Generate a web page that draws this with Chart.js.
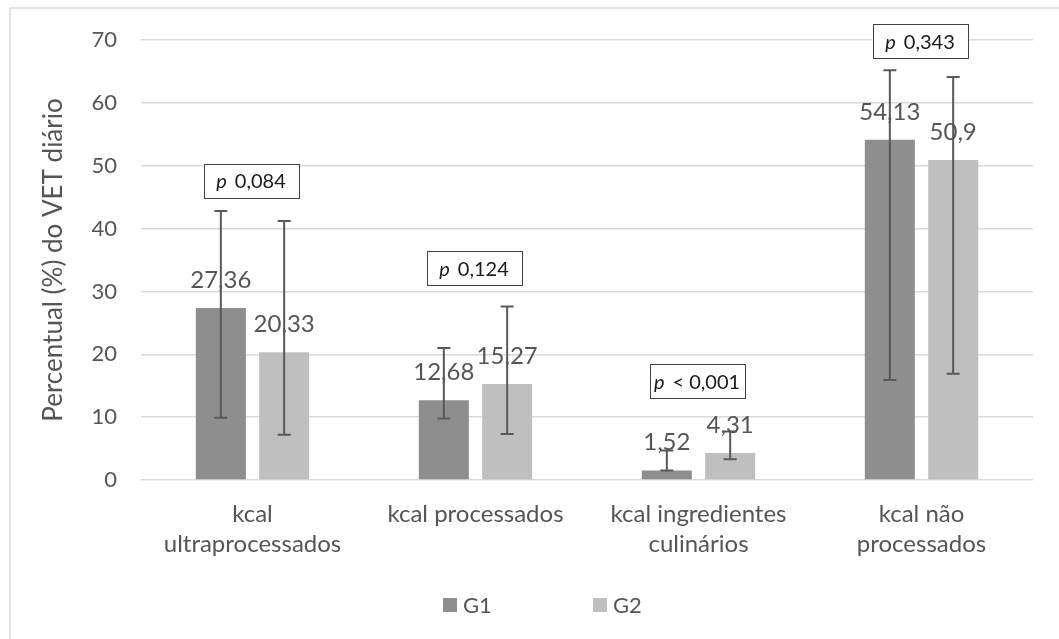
<!DOCTYPE html>
<html>
<head>
<meta charset="utf-8">
<script src="https://cdn.jsdelivr.net/npm/chart.js@4.4.1/dist/chart.umd.min.js"></script>
<style>
  html, body { margin: 0; padding: 0; background: #ffffff; }
  #wrap { width: 1059px; height: 639px; position: relative; }
</style>
</head>
<body>
<div id="wrap"><canvas id="chart" width="1059" height="639"></canvas></div>
<script>
// Category labels (multi-line where the label wraps)
const categories = [
  ['kcal', 'ultraprocessados'],
  'kcal processados',
  ['kcal ingredientes', 'culinários'],
  ['kcal não', 'processados']
];
const seriesNames = ['G1', 'G2'];

// Mean share of daily energy intake (%)
const g1Values = [27.36, 12.68, 1.52, 54.13];
const g2Values = [20.33, 15.27, 4.31, 50.9];

// Error bar limits (%)
const g1Low  = [9.9, 9.8, 1.5, 15.9];
const g1High = [42.8, 21.0, 4.7, 65.2];
const g2Low  = [7.2, 7.3, 3.3, 16.9];
const g2High = [41.2, 27.6, 7.7, 64.1];

// p-values between groups and the value level where each note sits
const pValues = ['0,084', '0,124', '< 0,001', '0,343'];
const pLevels = [47.6, 33.7, 15.7, 69.8];

// Value axis ticks
const yTicks = [0, 10, 20, 30, 40, 50, 60, 70];

const TEXT = '#555555';
const FONT = 'Lato';
const barColors = ['#8e8e8e', '#bfbfbf'];
const lows = [g1Low, g2Low];
const highs = [g1High, g2High];

const fmt = v => String(v).replace('.', ',');

// Light frame on the left and top edges
const framePlugin = {
  id: 'frame',
  beforeDraw(chart) {
    const ctx = chart.ctx;
    ctx.save();
    ctx.strokeStyle = '#d9d9d9';
    ctx.lineWidth = 1.5;
    ctx.beginPath();
    ctx.moveTo(10, chart.height);
    ctx.lineTo(10, 8);
    ctx.lineTo(chart.width, 8);
    ctx.stroke();
    ctx.restore();
  }
};

// Error bars and value labels for each bar
const barExtrasPlugin = {
  id: 'barExtras',
  afterDatasetsDraw(chart) {
    const ctx = chart.ctx;
    const y = chart.scales.y;
    ctx.save();
    chart.data.datasets.forEach((ds, di) => {
      const meta = chart.getDatasetMeta(di);
      meta.data.forEach((el, i) => {
        const yHi = y.getPixelForValue(highs[di][i]);
        const yLo = y.getPixelForValue(lows[di][i]);
        ctx.strokeStyle = '#595959';
        ctx.lineWidth = 2;
        ctx.beginPath();
        ctx.moveTo(el.x, yHi); ctx.lineTo(el.x, yLo);
        ctx.moveTo(el.x - 6.5, yHi); ctx.lineTo(el.x + 6.5, yHi);
        ctx.moveTo(el.x - 6.5, yLo); ctx.lineTo(el.x + 6.5, yLo);
        ctx.stroke();
      });
    });
    ctx.fillStyle = TEXT;
    ctx.font = `24px ${FONT}`;
    ctx.textAlign = 'center';
    ctx.textBaseline = 'alphabetic';
    chart.data.datasets.forEach((ds, di) => {
      const meta = chart.getDatasetMeta(di);
      meta.data.forEach((el, i) => {
        ctx.fillText(fmt(ds.data[i]), el.x, el.y - 20);
      });
    });
    ctx.restore();
  }
};

// Boxed p-value notes above each category, plus the legend row
const notesPlugin = {
  id: 'notes',
  afterDraw(chart) {
    const ctx = chart.ctx;
    const xs = chart.scales.x, ys = chart.scales.y;
    ctx.save();
    pValues.forEach((pv, i) => {
      const cx = xs.getPixelForValue(i) - 1.5;
      const cy = ys.getPixelForValue(pLevels[i]);
      const w = 95, h = 34;
      ctx.fillStyle = '#ffffff';
      ctx.fillRect(cx - w / 2, cy - h / 2, w, h);
      ctx.strokeStyle = '#404040';
      ctx.lineWidth = 1;
      ctx.strokeRect(Math.round(cx - w / 2) + 0.5, Math.round(cy - h / 2) + 0.5, w, h);
      const gap = 8;
      ctx.font = `italic 20px ${FONT}`;
      const pw = ctx.measureText('p').width;
      ctx.font = `20px ${FONT}`;
      const rw = ctx.measureText(pv).width;
      const x0 = cx - (pw + gap + rw) / 2;
      ctx.fillStyle = '#1a1a1a';
      ctx.textBaseline = 'middle';
      ctx.textAlign = 'left';
      ctx.font = `italic 20px ${FONT}`;
      ctx.fillText('p', x0, cy + 1);
      ctx.font = `20px ${FONT}`;
      ctx.fillText(pv, x0 + pw + gap, cy + 1);
    });

    // legend
    const items = [{ x: 443 }, { x: 593 }];
    ctx.font = `22px ${FONT}`;
    ctx.textBaseline = 'middle';
    ctx.textAlign = 'left';
    chart.data.datasets.forEach((ds, di) => {
      const it = items[di];
      ctx.fillStyle = ds.backgroundColor;
      ctx.fillRect(it.x, 598, 14, 14);
      ctx.fillStyle = TEXT;
      ctx.fillText(ds.label, it.x + 20, 606);
    });
    ctx.restore();
  }
};

new Chart(document.getElementById('chart'), {
  type: 'bar',
  data: {
    labels: categories,
    datasets: [
      { label: seriesNames[0], data: g1Values, backgroundColor: barColors[0] },
      { label: seriesNames[1], data: g2Values, backgroundColor: barColors[1] }
    ]
  },
  options: {
    responsive: false,
    animation: false,
    devicePixelRatio: 1,
    layout: { padding: { left: 10, right: 26, top: 40, bottom: 0 } },
    datasets: { bar: { categoryPercentage: 0.568, barPercentage: 0.79 } },
    plugins: {
      legend: { display: false },
      tooltip: { enabled: false }
    },
    scales: {
      x: {
        grid: { display: false, drawTicks: false },
        border: { display: false },
        ticks: {
          color: TEXT,
          font: { family: FONT, size: 24, lineHeight: 1.25 },
          padding: 19,
          maxRotation: 0,
          autoSkip: false
        },
        afterFit(scale) { scale.height = 159; }
      },
      y: {
        min: 0,
        max: 70,
        afterBuildTicks(scale) { scale.ticks = yTicks.map(v => ({ value: v })); },
        grid: { color: '#d9d9d9', lineWidth: 1.5, drawTicks: false },
        border: { display: false },
        ticks: {
          color: TEXT,
          font: { family: FONT, size: 22 },
          padding: 24
        },
        title: {
          display: true,
          text: 'Percentual (%) do VET diário',
          color: TEXT,
          font: { family: FONT, size: 26 },
          padding: { top: 28, bottom: 0 }
        },
        afterFit(scale) { scale.width = 131; }
      }
    }
  },
  plugins: [framePlugin, barExtrasPlugin, notesPlugin]
});
</script>
</body>
</html>
